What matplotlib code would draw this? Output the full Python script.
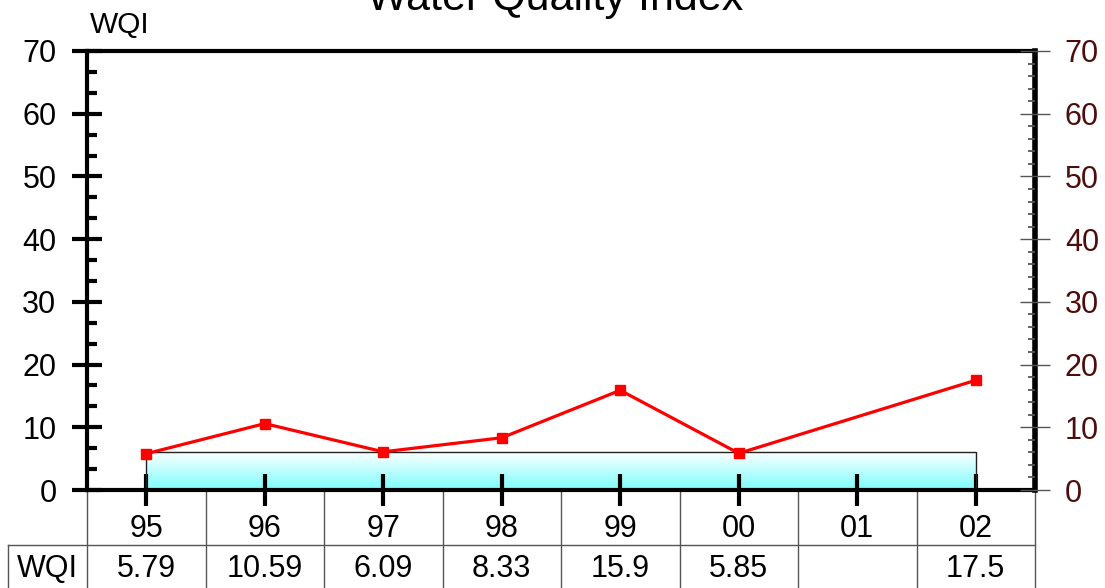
import numpy as np
import matplotlib.pyplot as plt
from matplotlib.ticker import MultipleLocator
from matplotlib.colors import LinearSegmentedColormap

plt.rcParams['font.family'] = ['Liberation Sans', 'DejaVu Sans']

# data
years = ['95', '96', '97', '98', '99', '00', '01', '02']
wqi = [5.79, 10.59, 6.09, 8.33, 15.9, 5.85, None, 17.5]
band_top = 6.06      # shaded reference band (from 95 to 02)
row_label = 'WQI'

x = np.arange(len(years))
xs = [i for i, v in zip(x, wqi) if v is not None]
ys = [v for v in wqi if v is not None]

fig = plt.figure(figsize=(11.05, 5.88), dpi=100)
ax = fig.add_axes([87/1105, 98/588, 948/1105, 439/588])
ax.set_xlim(-0.5, len(years) - 0.5)
ax.set_ylim(0, 70)

# gradient band
cmap = LinearSegmentedColormap.from_list('wc', ['#7cfcfc', '#ffffff'])
grad = np.linspace(0, 1, 100).reshape(-1, 1)
ax.imshow(grad, cmap=cmap, origin='lower', aspect='auto',
          extent=[x[0], x[-1], 0, band_top], zorder=1)
ax.plot([x[0], x[0], x[-1], x[-1]], [0, band_top, band_top, 0],
        color='#222222', lw=1, zorder=2)

# WQI line
ax.plot(xs, ys, color='red', lw=2.3, marker='s', ms=6.5, zorder=4)

# spines / ticks
for s in ax.spines.values():
    s.set_linewidth(3)
ax.set_xticks(x)
ax.set_xticklabels([])
ax.tick_params(axis='x', direction='inout', length=23, width=3)
ax.yaxis.set_major_locator(MultipleLocator(10))
ax.yaxis.set_minor_locator(MultipleLocator(10/3))
ax.tick_params(axis='y', which='major', direction='inout', length=22, width=3,
               labelsize=22, pad=11)
ax.tick_params(axis='y', which='minor', direction='in', length=7, width=3)

ax2 = ax.twinx()
ax2.set_ylim(0, 70)
ax2.yaxis.set_major_locator(MultipleLocator(10))
ax2.yaxis.set_minor_locator(MultipleLocator(2))
ax2.tick_params(axis='y', which='major', direction='inout', length=21, width=1,
                color='#555555', labelsize=22, labelcolor='#4d0d0d', pad=11)
ax2.tick_params(axis='y', which='minor', direction='in', length=5, width=1.3,
                color='#555555')
for s in ax2.spines.values():
    s.set_visible(False)
ax.spines['right'].set_linewidth(4)

# data table under the axis
tr = ax.get_xaxis_transform()
r1 = -55/439
r2 = -110/439
left = -0.5 - 79/118.5
gc = '#555555'
for i in range(len(years) + 1):
    ax.plot([i - 0.5, i - 0.5], [0, r2], transform=tr, color=gc, lw=1,
            clip_on=False, zorder=0)
ax.plot([left, len(years) - 0.5], [r1, r1], transform=tr, color=gc, lw=1, clip_on=False)
ax.plot([left, len(years) - 0.5], [r2, r2], transform=tr, color=gc, lw=1, clip_on=False)
ax.plot([left, left], [r1, r2], transform=tr, color=gc, lw=1, clip_on=False)
for i, (yr, v) in enumerate(zip(years, wqi)):
    ax.text(i, -39/439, yr, transform=tr, ha='center', va='center', fontsize=22)
    if v is not None:
        ax.text(i, -79/439, '%g' % v, transform=tr, ha='center', va='center', fontsize=22)
ax.text((left - 0.5) / 2, -79/439, row_label, transform=tr, ha='center', va='center',
        fontsize=22)

fig.text(555/1105, 1 - 10/588, 'Water Quality Index', ha='center', va='baseline',
         fontsize=31)
fig.text(90/1105, 1 - 33/588, 'WQI', ha='left', va='baseline', fontsize=21.5)

plt.savefig('out.png', dpi=100)
